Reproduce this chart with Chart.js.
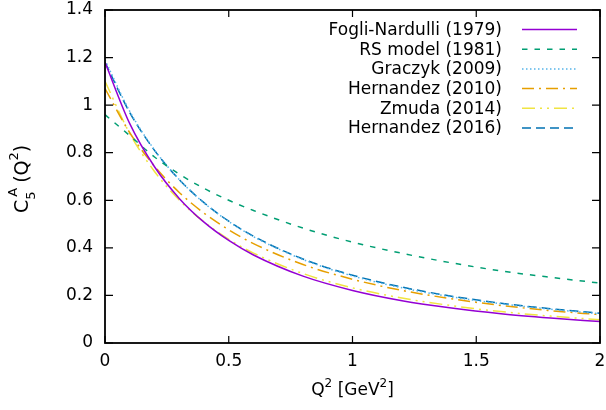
<!DOCTYPE html>
<html><head><meta charset="utf-8">
<script src="https://cdn.jsdelivr.net/npm/chart.js@4.4.1/dist/chart.umd.min.js"></script>
<style>html,body{margin:0;padding:0;background:#fff;} canvas{display:block;}</style>
</head><body>
<canvas id="c" width="606" height="410"></canvas>
<script>
// ---- data ----
const q2 = [0, 0.1, 0.2, 0.3, 0.4, 0.5, 0.6, 0.8, 1.0, 1.2, 1.4, 1.6, 1.8, 2.0];
const fogliNardulli = [1.18, 0.922, 0.741, 0.608, 0.508, 0.431, 0.370, 0.281, 0.221, 0.178, 0.147, 0.123, 0.105, 0.090];
const rsModel       = [0.96, 0.872, 0.782, 0.710, 0.650, 0.600, 0.557, 0.483, 0.424, 0.377, 0.337, 0.303, 0.276, 0.252];
const graczyk       = [1.19, 0.974, 0.812, 0.687, 0.589, 0.511, 0.447, 0.351, 0.282, 0.232, 0.194, 0.165, 0.142, 0.123];
const hernandez2010 = [1.07, 0.884, 0.743, 0.633, 0.546, 0.476, 0.418, 0.330, 0.268, 0.221, 0.186, 0.158, 0.136, 0.119];
const zmuda2014     = [1.10, 0.881, 0.721, 0.601, 0.509, 0.436, 0.378, 0.292, 0.232, 0.189, 0.157, 0.132, 0.113, 0.098];
const hernandez2016 = [1.18, 0.969, 0.810, 0.687, 0.590, 0.512, 0.449, 0.353, 0.285, 0.235, 0.197, 0.167, 0.144, 0.125];
const seriesLabels = ['Fogli-Nardulli (1979)', 'RS model (1981)', 'Graczyk (2009)', 'Hernandez (2010)', 'Zmuda (2014)', 'Hernandez (2016)'];
const xTickValues = [0, 0.5, 1, 1.5, 2];
const xTickLabels = ['0', '0.5', '1', '1.5', '2'];
const yTickValues = [0, 0.2, 0.4, 0.6, 0.8, 1, 1.2, 1.4];
const yTickLabels = ['0', '0.2', '0.4', '0.6', '0.8', '1', '1.2', '1.4'];

const seriesValues = [fogliNardulli, rsModel, graczyk, hernandez2010, zmuda2014, hernandez2016];
const colors = ['#9400d3', '#009e73', '#56b4e9', '#e69f00', '#f0e442', '#0072b2'];
const dashes = [[], [5.5, 7], [1.5, 2.5], [12, 5, 2, 5], [13, 5, 2, 5, 2, 5], [9, 5]];

const FONT = 'DejaVu Sans';
const FS = 17;

const datasets = seriesValues.map((vals, i) => ({
  label: seriesLabels[i],
  data: q2.map((x, j) => ({x: x, y: vals[j]})),
  borderColor: colors[i],
  backgroundColor: colors[i],
  borderDash: dashes[i],
  borderWidth: 1.5,
  pointRadius: 0,
  fill: false,
  cubicInterpolationMode: 'monotone'
}));

const frameTicks = {
  id: 'frameTicks',
  afterDraw(chart) {
    const {ctx, chartArea: a, scales} = chart;
    ctx.save();
    ctx.strokeStyle = '#000';
    ctx.setLineDash([]);
    ctx.lineWidth = 1.2;
    ctx.beginPath();
    scales.x.ticks.forEach(t => {
      const px = scales.x.getPixelForValue(t.value);
      ctx.moveTo(px, a.bottom); ctx.lineTo(px, a.bottom - 7);
      ctx.moveTo(px, a.top); ctx.lineTo(px, a.top + 7);
    });
    scales.y.ticks.forEach(t => {
      const py = scales.y.getPixelForValue(t.value);
      ctx.moveTo(a.left, py); ctx.lineTo(a.left + 8, py);
      ctx.moveTo(a.right, py); ctx.lineTo(a.right - 8, py);
    });
    ctx.stroke();
    ctx.lineWidth = 1.8;
    ctx.strokeRect(a.left, a.top, a.right - a.left, a.bottom - a.top);
    ctx.restore();
  }
};

function drawRich(ctx, x, y, rot, parts, center) {
  ctx.save();
  ctx.translate(x, y);
  ctx.rotate(rot);
  let w = 0, last = 0;
  const pos = [];
  parts.forEach(p => {
    ctx.font = p.s + 'px "' + FONT + '"';
    const pw = ctx.measureText(p.t).width;
    if (p.stack) { pos.push(last + (p.sx || 0)); w = Math.max(w, last + (p.sx || 0) + pw); }
    else { w += (p.gap || 0); pos.push(w); last = w; w += pw; }
  });
  const off = center ? -w / 2 : 0;
  ctx.fillStyle = '#000';
  ctx.textBaseline = 'alphabetic';
  ctx.textAlign = 'left';
  parts.forEach((p, i) => {
    ctx.font = p.s + 'px "' + FONT + '"';
    ctx.fillText(p.t, off + pos[i], p.dy || 0);
  });
  ctx.restore();
}

const titlesLegend = {
  id: 'titlesLegend',
  afterDraw(chart) {
    const {ctx, chartArea: a} = chart;
    // y title C_5^A(Q^2)
    drawRich(ctx, 28, 213, -Math.PI / 2, [
      {t: 'C', s: 19}, {t: '5', s: 13, dy: 7}, {t: 'A', s: 13, dy: -11, stack: true, sx: 3},
      {t: '(Q', s: 19, gap: 5}, {t: '2', s: 13, dy: -10}, {t: ')', s: 19}
    ], false);
    // x title Q^2 [GeV^2]
    drawRich(ctx, (a.left + a.right) / 2, 395, 0, [
      {t: 'Q', s: FS}, {t: '2', s: 12, dy: -8}, {t: ' [GeV', s: FS}, {t: '2', s: 12, dy: -8}, {t: ']', s: FS}
    ], true);
    // legend
    ctx.save();
    ctx.font = FS + 'px "' + FONT + '"';
    ctx.textAlign = 'right';
    ctx.textBaseline = 'middle';
    chart.data.datasets.forEach((ds, i) => {
      const y = 29.5 + i * 19.7;
      ctx.fillStyle = '#000';
      ctx.fillText(ds.label, 502, y + 1);
      ctx.strokeStyle = ds.borderColor;
      ctx.lineWidth = ds.borderWidth;
      ctx.setLineDash(ds.borderDash);
      ctx.beginPath();
      ctx.moveTo(522, y); ctx.lineTo(577, y);
      ctx.stroke();
    });
    ctx.restore();
  }
};

new Chart(document.getElementById('c'), {
  type: 'line',
  data: {datasets: datasets},
  options: {
    responsive: false,
    animation: false,
    devicePixelRatio: 1,
    layout: {padding: {left: 0, right: 6, top: 10, bottom: 0}},
    plugins: {legend: {display: false}, tooltip: {enabled: false}},
    scales: {
      x: {
        type: 'linear', min: 0, max: 2,
        grid: {display: false, drawTicks: false},
        border: {display: false},
        afterBuildTicks(s) { s.ticks = xTickValues.map(v => ({value: v})); },
        ticks: {color: '#000', padding: 8, font: {family: FONT, size: FS}, maxRotation: 0, autoSkip: false,
                callback: (v, i) => xTickLabels[i]},
        afterFit(s) { s.height = 67; s.paddingLeft = 0; s.paddingRight = 0; }
      },
      y: {
        type: 'linear', min: 0, max: 1.4,
        grid: {display: false, drawTicks: false},
        border: {display: false},
        afterBuildTicks(s) { s.ticks = yTickValues.map(v => ({value: v})); },
        ticks: {color: '#000', padding: 12, font: {family: FONT, size: FS}, autoSkip: false,
                callback: (v, i) => yTickLabels[i]},
        afterFit(s) { s.width = 105; s.paddingTop = 0; s.paddingBottom = 0; }
      }
    }
  },
  plugins: [frameTicks, titlesLegend]
});
</script>
</body></html>
